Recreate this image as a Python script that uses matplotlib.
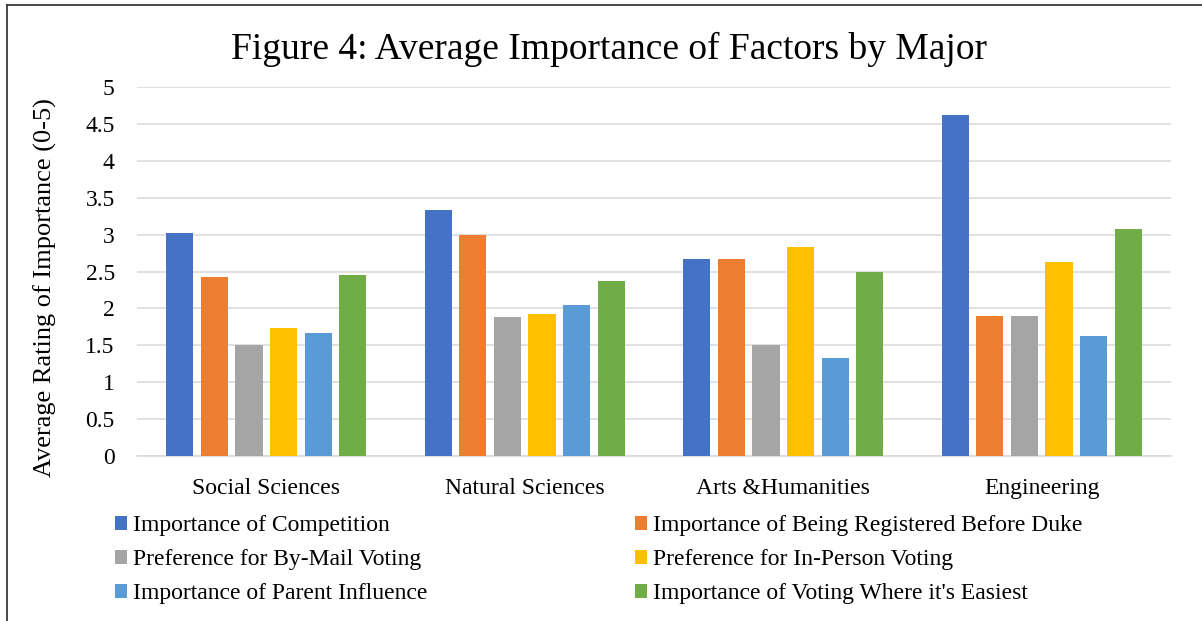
import matplotlib.pyplot as plt
import numpy as np
from matplotlib.lines import Line2D

# average ratings per major
majors = ['Social Sciences', 'Natural Sciences', 'Arts &Humanities', 'Engineering']
competition = [3.02, 3.33, 2.67, 4.62]
registered = [2.43, 3.00, 2.67, 1.90]
by_mail = [1.50, 1.88, 1.50, 1.90]
in_person = [1.74, 1.93, 2.83, 2.63]
parent = [1.67, 2.04, 1.33, 1.62]
easiest = [2.45, 2.37, 2.50, 3.08]

series = [
    ('Importance of Competition', competition, '#4472C4'),
    ('Importance of Being Registered Before Duke', registered, '#ED7D31'),
    ('Preference for By-Mail Voting', by_mail, '#A5A5A5'),
    ('Preference for In-Person Voting', in_person, '#FFC000'),
    ('Importance of Parent Influence', parent, '#5B9BD5'),
    ("Importance of Voting Where it's Easiest", easiest, '#70AD47'),
]

plt.rcParams['font.family'] = 'Liberation Serif'

W, H = 1202, 621
fig = plt.figure(figsize=(W / 100, H / 100), dpi=100)
ax = fig.add_axes([137 / W, 1 - 456 / H, (1171 - 137) / W, (456 - 87) / H])

x = np.arange(len(majors))
slot = 0.1335
width = 0.1045
bars = []
for i, (name, vals, col) in enumerate(series):
    b = ax.bar(x + (i - 2.5) * slot, vals, width, color=col, label=name, zorder=3)
    bars.append(b)

ax.set_xlim(-0.5, 3.5)
ax.set_ylim(0, 5)
ax.set_yticks(np.arange(0, 5.01, 0.5))
ax.set_yticklabels(['0', '0.5', '1', '1.5', '2', '2.5', '3', '3.5', '4', '4.5', '5'])
ax.set_xticks(x)
ax.set_xticklabels(majors)
ax.tick_params(axis='both', length=0, labelsize=17)
ax.tick_params(axis='x', pad=16)
ax.tick_params(axis='y', pad=16)
ax.grid(axis='y', color='#D9D9D9', linewidth=1.1, zorder=0)
for s in ['top', 'right', 'left']:
    ax.spines[s].set_visible(False)
ax.spines['bottom'].set_color('#D9D9D9')
ax.spines['bottom'].set_linewidth(1.1)

fig.text(45 / W, 1 - 288 / H, 'Average Rating of Importance (0-5)',
         rotation=90, ha='center', va='center', fontsize=19)

fig.text(609 / W, 1 - 49 / H, 'Figure 4: Average Importance of Factors by Major',
         ha='center', va='center', fontsize=27)

# legend, filled column by column
order = [0, 2, 4, 1, 3, 5]
fig.legend([bars[i] for i in order], [series[i][0] for i in order],
           ncol=2, loc='upper left', bbox_to_anchor=(94 / W, 1 - 494 / H),
           frameon=False, fontsize=17, handlelength=0.5, handleheight=0.5,
           handletextpad=0.25, columnspacing=8.8, labelspacing=0.55)

# outer frame, visible on top and left
fig.add_artist(Line2D([7 / W, 7 / W], [0, 1 - 5 / H], color='#3A3A3A', lw=1.3))
fig.add_artist(Line2D([7 / W, 1], [1 - 5 / H, 1 - 5 / H], color='#3A3A3A', lw=1.3))

fig.savefig('out.png', dpi=100)
